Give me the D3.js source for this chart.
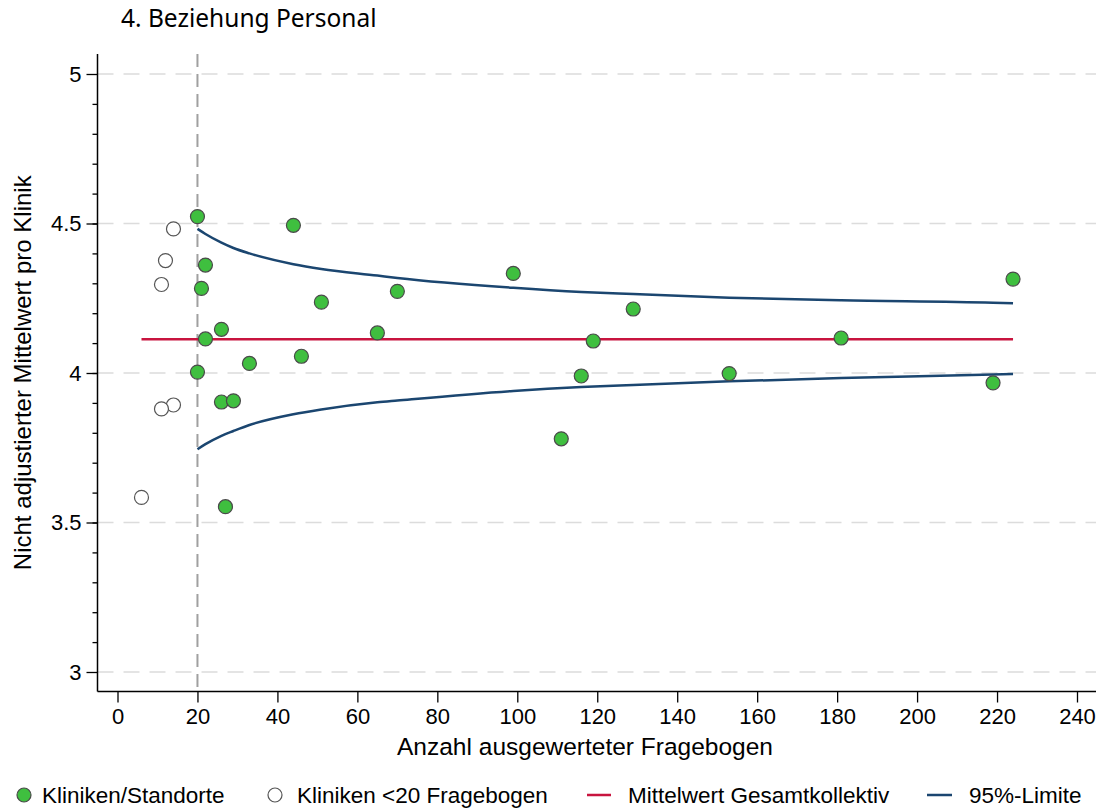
<!DOCTYPE html>
<html>
<head>
<meta charset="utf-8">
<script src="https://cdn.jsdelivr.net/npm/d3@7"></script>
<style>
  html, body { margin: 0; padding: 0; background: #fff; }
  svg { display: block; }
  text { font-family: "Liberation Sans", Arial, sans-serif; fill: #000; }
</style>
</head>
<body>
<svg id="chart" width="1104" height="809"></svg>
<script>
// Clinics with at least 20 questionnaires: [count, unadjusted mean]
const clinicN    = [20, 44, 22, 21, 51, 70, 99, 129, 224, 26, 22, 65, 119, 181, 20, 33, 46, 26, 29, 116, 153, 219, 111, 27];
const clinicMean = [4.523, 4.494, 4.361, 4.283, 4.237, 4.273, 4.333, 4.214, 4.314, 4.146, 4.114, 4.134, 4.107, 4.117, 4.003, 4.032, 4.056, 3.903, 3.907, 3.990, 3.998, 3.967, 3.780, 3.553];

// Clinics with fewer than 20 questionnaires
const smallN    = [14, 12, 11, 14, 11, 6];
const smallMean = [4.482, 4.376, 4.296, 3.893, 3.880, 3.584];

// Overall mean across all clinics
const overallMean = 4.113;
const overallRange = [6, 224];

// 95% control limits by questionnaire count
const limitN     = [20, 22, 26, 29, 33, 44, 51, 65, 70, 99, 116, 129, 153, 181, 219, 224];
const limitUpper = [4.482, 4.465, 4.436, 4.418, 4.400, 4.364, 4.348, 4.326, 4.318, 4.285, 4.271, 4.264, 4.252, 4.243, 4.235, 4.233];
const limitLower = [3.745, 3.762, 3.790, 3.806, 3.826, 3.862, 3.878, 3.902, 3.908, 3.940, 3.953, 3.960, 3.972, 3.983, 3.995, 3.997];

const minCount = 20;

const xTicks = d3.range(0, 241, 20);
const yTicks = [3, 3.5, 4, 4.5, 5];
const yMinorTicks = d3.range(31, 50).map(d => d / 10);

const titleText = "4. Beziehung Personal";
const xTitle = "Anzahl ausgewerteter Fragebogen";
const yTitle = "Nicht adjustierter Mittelwert pro Klinik";
const legendLabels = ["Kliniken/Standorte", "Kliniken <20 Fragebogen", "Mittelwert Gesamtkollektiv", "95%-Limite"];

const colGreen = "#3fbf3f";
const colRed = "#c8143f";
const colBlue = "#1b4670";

const svg = d3.select("#chart");

const plot = { left: 97.5, right: 1096, top: 54, bottom: 691.5 };

const x = d3.scaleLinear().domain([0, 240]).range([117.5, 1077]);
const y = d3.scaleLinear().domain([3, 5]).range([672, 74]);

// Horizontal grid
svg.append("g").selectAll("line").data(yTicks).join("line")
  .attr("x1", plot.left).attr("x2", plot.right)
  .attr("y1", d => y(d)).attr("y2", d => y(d))
  .attr("stroke", "#dcdcdc").attr("stroke-width", 1.5)
  .attr("stroke-dasharray", "16,10");

// Cut-off line at 20 questionnaires
svg.append("line")
  .attr("x1", x(minCount)).attr("x2", x(minCount))
  .attr("y1", plot.top).attr("y2", plot.bottom)
  .attr("stroke", "#a0a0a0").attr("stroke-width", 2)
  .attr("stroke-dasharray", "13,7");

// Axes
const yAxis = d3.axisLeft(y).tickValues(yTicks).tickSize(11).tickPadding(5).tickFormat(d3.format("~g"));
const yAx = svg.append("g").attr("transform", `translate(${plot.left},0)`).call(yAxis);
yAx.select(".domain").attr("d", `M0,${plot.top}V${plot.bottom}`).attr("stroke", "#000").attr("stroke-width", 1.5);
yAx.selectAll(".tick line").attr("stroke", "#000").attr("stroke-width", 1.3);
yAx.selectAll(".tick text").style("font-size", "22px").style("font-family", "Liberation Sans, Arial, sans-serif");

const yMinor = d3.axisLeft(y).tickValues(yMinorTicks).tickSize(5).tickFormat("");
const yMin = svg.append("g").attr("transform", `translate(${plot.left},0)`).call(yMinor);
yMin.select(".domain").remove();
yMin.selectAll(".tick line").attr("stroke", "#000").attr("stroke-width", 1.3);

const xAxis = d3.axisBottom(x).tickValues(xTicks).tickSize(11).tickPadding(6);
const xAx = svg.append("g").attr("transform", `translate(0,${plot.bottom})`).call(xAxis);
xAx.select(".domain").attr("d", `M${plot.left},0H${plot.right}`).attr("stroke", "#000").attr("stroke-width", 1.5);
xAx.selectAll(".tick line").attr("stroke", "#000").attr("stroke-width", 1.3);
xAx.selectAll(".tick text").style("font-size", "22px").style("font-family", "Liberation Sans, Arial, sans-serif");

// Axis titles
svg.append("text").attr("x", 585).attr("y", 755)
  .attr("text-anchor", "middle").style("font-size", "24.5px").text(xTitle);
svg.append("text")
  .attr("transform", `translate(31,${(plot.top + plot.bottom) / 2}) rotate(-90)`)
  .attr("text-anchor", "middle").style("font-size", "24px").text(yTitle);

// Chart title
svg.append("text").attr("x", 121).attr("y", 27)
  .style("font-family", "'Noto Sans', 'Open Sans', sans-serif").style("font-size", "24.5px")
  .text(titleText);

// Overall mean
svg.append("line")
  .attr("x1", x(overallRange[0])).attr("x2", x(overallRange[1]))
  .attr("y1", y(overallMean)).attr("y2", y(overallMean))
  .attr("stroke", colRed).attr("stroke-width", 2.5);

// Control limits
const limLine = arr => d3.line().curve(d3.curveMonotoneX)
  .x((d, i) => x(limitN[i])).y((d, i) => y(arr[i]));
svg.append("path").datum(limitUpper).attr("d", limLine(limitUpper))
  .attr("fill", "none").attr("stroke", colBlue).attr("stroke-width", 2.5);
svg.append("path").datum(limitLower).attr("d", limLine(limitLower))
  .attr("fill", "none").attr("stroke", colBlue).attr("stroke-width", 2.5);

// Small clinics
svg.append("g").selectAll("circle").data(smallN).join("circle")
  .attr("cx", d => x(d)).attr("cy", (d, i) => y(smallMean[i])).attr("r", 7)
  .attr("fill", "#fff").attr("stroke", "#555").attr("stroke-width", 1.2);

// Clinics / sites
svg.append("g").selectAll("circle").data(clinicN).join("circle")
  .attr("cx", d => x(d)).attr("cy", (d, i) => y(clinicMean[i])).attr("r", 7)
  .attr("fill", colGreen).attr("stroke", "#4a4a4a").attr("stroke-width", 1.2);

// Legend
const lg = svg.append("g").style("font-size", "22.5px");
const ly = 795;
lg.append("circle").attr("cx", 24).attr("cy", ly).attr("r", 7)
  .attr("fill", colGreen).attr("stroke", "#4a4a4a").attr("stroke-width", 1.2);
lg.append("text").attr("x", 42).attr("y", ly + 8).text(legendLabels[0]);
lg.append("circle").attr("cx", 275).attr("cy", ly).attr("r", 7)
  .attr("fill", "#fff").attr("stroke", "#555").attr("stroke-width", 1.2);
lg.append("text").attr("x", 297).attr("y", ly + 8).text(legendLabels[1]);
lg.append("line").attr("x1", 587).attr("x2", 611).attr("y1", ly).attr("y2", ly)
  .attr("stroke", colRed).attr("stroke-width", 2.5);
lg.append("text").attr("x", 628).attr("y", ly + 8).text(legendLabels[2]);
lg.append("line").attr("x1", 927).attr("x2", 952).attr("y1", ly).attr("y2", ly)
  .attr("stroke", colBlue).attr("stroke-width", 2.5);
lg.append("text").attr("x", 969).attr("y", ly + 8).text(legendLabels[3]);
</script>
</body>
</html>
